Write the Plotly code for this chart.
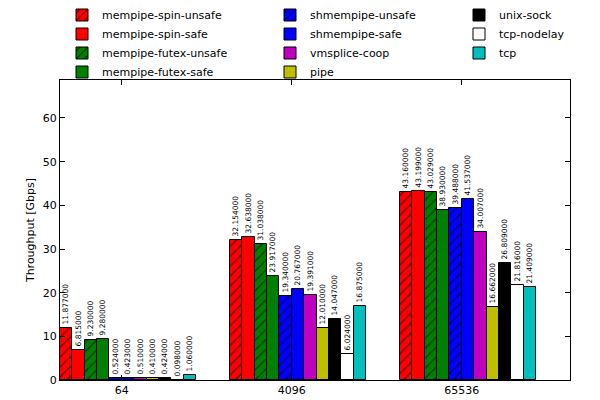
import plotly.graph_objects as go

groups = ["64", "4096", "65536"]
series = ["mempipe-spin-unsafe", "mempipe-spin-safe", "mempipe-futex-unsafe", "mempipe-futex-safe",
          "shmempipe-unsafe", "shmempipe-safe", "vmsplice-coop", "pipe",
          "unix-sock", "tcp-nodelay", "tcp"]
spin_unsafe = [11.877, 32.154, 43.160]
spin_safe = [6.815, 32.638, 43.199]
futex_unsafe = [9.230, 31.038, 43.029]
futex_safe = [9.280, 23.917, 38.930]
shm_unsafe = [0.524, 19.340, 39.488]
shm_safe = [0.423, 20.767, 41.537]
vmsplice = [0.510, 19.391, 34.007]
pipe = [0.410, 12.010, 16.662]
unix_sock = [0.424, 14.047, 26.809]
tcp_nodelay = [0.098, 6.024, 21.816]
tcp = [1.060, 16.875, 21.409]
values = [spin_unsafe, spin_safe, futex_unsafe, futex_safe, shm_unsafe, shm_safe,
          vmsplice, pipe, unix_sock, tcp_nodelay, tcp]
colors = ["#ff0000", "#ff0000", "#008000", "#008000", "#0000ff", "#0000ff",
          "#bf00bf", "#bfbf00", "#000000", "#ffffff", "#00bfbf"]
hatched = [True, False, True, False, True, False, False, False, False, False, False]
legend_of = ["legend", "legend", "legend", "legend", "legend2", "legend2", "legend2", "legend2",
             "legend3", "legend3", "legend3"]

n = len(series)
w = 0.8 / n

fig = go.Figure()
for k, (name, vals) in enumerate(zip(series, values)):
    xs = [i + k * w + w / 2 for i in range(len(groups))]
    fig.add_trace(go.Bar(
        x=xs, y=vals, width=w, name=name,
        marker=dict(color=colors[k], line=dict(color="black", width=1),
                    pattern=dict(shape="/" if hatched[k] else "", fgcolor="black",
                                 bgcolor=colors[k], size=7, solidity=0.22)),
        texttemplate="%{y:.6f}", textposition="outside", textangle=-90,
        textfont=dict(size=7.5, family="DejaVu Sans", color="black"),
        constraintext="none", cliponaxis=False,
        legend=legend_of[k],
    ))

legend_common = dict(y=1.265, yanchor="top", xanchor="left",
                     bgcolor="rgba(0,0,0,0)", font=dict(size=11, family="DejaVu Sans", color="black"),
                     traceorder="normal")
fig.update_layout(
    width=592, height=392,
    margin=dict(l=52, r=30, t=72, b=20, autoexpand=False),
    plot_bgcolor="white", paper_bgcolor="white",
    font=dict(family="DejaVu Sans", size=11, color="black"),
    bargap=0, barmode="overlay",
    legend=dict(x=(62 - 60) / 510, **legend_common),
    legend2=dict(x=(270 - 60) / 510, **legend_common),
    legend3=dict(x=(459 - 60) / 510, **legend_common),
    xaxis=dict(range=[0, 3], tickvals=[i + 0.4 - w / 2 for i in range(len(groups))], ticktext=groups,
               ticks="inside", ticklen=5, tickcolor="black", showline=True, linecolor="black",
               linewidth=1, mirror="ticks", showgrid=False, zeroline=False,
               tickfont=dict(size=11)),
    yaxis=dict(range=[0, 68.7], dtick=10, ticks="inside", ticklen=5, tickcolor="black",
               showline=True, linecolor="black", linewidth=1, mirror="ticks", showgrid=False,
               zeroline=False, tickfont=dict(size=11),
               title=dict(text="Throughput [Gbps]", font=dict(size=11), standoff=5)),
)
fig.write_html("out.html")
